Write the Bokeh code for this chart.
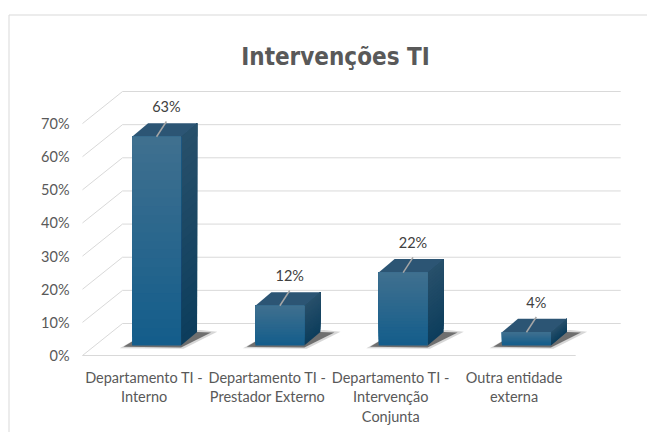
from bokeh.plotting import figure
from bokeh.models import Range1d
from bokeh.embed import file_html
from bokeh.resources import INLINE
from bokeh.core.properties import value

# ---------------- data ----------------
title_text = "Intervenções TI"
categories = ["Departamento TI -\nInterno",
              "Departamento TI -\nPrestador Externo",
              "Departamento TI -\nIntervenção\nConjunta",
              "Outra entidade\nexterna"]
values = [63, 12, 22, 4]
value_labels = ["63%", "12%", "22%", "4%"]
ticks = [0, 10, 20, 30, 40, 50, 60, 70]
tick_labels = ["0%", "10%", "20%", "30%", "40%", "50%", "60%", "70%"]

# ---------------- layout / style ----------------
W, H = 647, 432
PX_PER_X = 123.3          # pixels per category unit
PX_PER_Y = 3.314          # pixels per percent
X0_PX = 82                # canvas px of front-plane x = 0
Y0_PX = 355               # canvas px (from top) of front-plane y = 0

x_range = Range1d(-X0_PX / PX_PER_X, (W - X0_PX) / PX_PER_X)
y_range = Range1d(-(H - Y0_PX) / PX_PER_Y, Y0_PX / PX_PER_Y)


def cx(px):
    return x_range.start + px / PX_PER_X


def cy(px):
    return y_range.end - px / PX_PER_Y


DX = 40 / PX_PER_X        # depth of the chart (back wall offset)
DY = 32 / PX_PER_Y
FX = 12.4 / PX_PER_X      # bar front plane offset
FY = 10 / PX_PER_Y
BDX = 16 / PX_PER_X       # bar depth
BDY = 13.5 / PX_PER_Y
HW = 24.5 / PX_PER_X      # half bar width
BACK_EXTRA = 5 / PX_PER_X
SHX = 30 / PX_PER_X       # shadow reach
SHY = 13 / PX_PER_Y

GRID = "#d9d9d9"
TXT = "#595959"
FONT = value("Lato")

p = figure(width=W, height=H, x_range=x_range, y_range=y_range,
           x_axis_type=None, y_axis_type=None, toolbar_location=None,
           output_backend="svg", min_border=0)
p.outline_line_color = None
p.grid.visible = False
p.background_fill_color = "white"
p.border_fill_color = "white"

# chart border
p.segment(x0=[cx(8.5), cx(8.5)], y0=[cy(14.5), cy(14.5)],
          x1=[cx(8.5), cx(W + 5)], y1=[cy(H + 5), cy(14.5)],
          line_color=GRID, line_width=1)

n = len(categories)

# back wall gridlines
p.segment(x0=[DX] * len(ticks), y0=[t + DY for t in ticks],
          x1=[n + DX + BACK_EXTRA] * len(ticks), y1=[t + DY for t in ticks],
          line_color=GRID, line_width=1)
# side (left) diagonal gridlines
p.segment(x0=[0] * len(ticks), y0=ticks,
          x1=[DX] * len(ticks), y1=[t + DY for t in ticks],
          line_color=GRID, line_width=1)
# front floor edge
p.segment(x0=[0], y0=[0], x1=[n], y1=[0], line_color=GRID, line_width=1)


def lerp(c1, c2, t):
    a = [int(c1[i:i + 2], 16) for i in (1, 3, 5)]
    b = [int(c2[i:i + 2], 16) for i in (1, 3, 5)]
    return "#%02x%02x%02x" % tuple(round(a[k] + (b[k] - a[k]) * t) for k in range(3))


FRONT_BOT, FRONT_TOP = "#135d8b", "#40708f"
SIDE_BOT, SIDE_TOP = "#0c3d5c", "#28506b"
TOP_C = "#2c5574"
NS = 24

for i, v in enumerate(values):
    xc = i + 0.5 + FX
    xl, xr = xc - HW, xc + HW
    yb, yt = FY, FY + v
    # shadow (soft halo, then dark core)
    p.patch([xl - 0.10, xr + 0.02, xr + SHX + 0.05, xr + BDX + 0.03, xl + BDX],
            [yb - 0.8, yb - 1.0, yb + SHY + 0.2, yb + BDY + 0.6, yb + BDY],
            fill_color="#202020", fill_alpha=0.18, line_color=None)
    p.patch([xl - 0.07, xr, xr + SHX, xr + BDX, xl + BDX],
            [yb - 0.4, yb - 0.6, yb + SHY, yb + BDY, yb + BDY],
            fill_color="#1a1a1a", fill_alpha=0.55, line_color=None)
    # side face (layered strips, each running to the top -> no seams)
    xs, ys, cs = [], [], []
    for k in range(NS):
        y0 = yb + v * k / NS
        xs.append([xr, xr + BDX, xr + BDX, xr])
        ys.append([y0, y0 + BDY, yt + BDY, yt])
        cs.append(lerp(SIDE_BOT, SIDE_TOP, (k + 0.5) / NS))
    p.patches(xs, ys, fill_color=cs, line_color=None)
    # top face
    p.patch([xl, xr, xr + BDX, xl + BDX], [yt, yt, yt + BDY, yt + BDY],
            fill_color=TOP_C, line_color=None)
    # front face (layered strips)
    bots = [yb + v * k / NS for k in range(NS)]
    cols = [lerp(FRONT_BOT, FRONT_TOP, (k + 0.5) / NS) for k in range(NS)]
    p.quad(left=[xl] * NS, right=[xr] * NS, bottom=bots, top=[yt] * NS,
           fill_color=cols, line_color=None)

# leader lines and data labels
lab_x = [i + 0.5 + FX + 0.08 for i in range(n)]
p.segment(x0=lab_x, y0=[FY + v + 4.6 for v in values],
          x1=[i + 0.5 + FX for i in range(n)], y1=[FY + v for v in values],
          line_color="#a6a6a6", line_width=1.5)
p.text(x=lab_x, y=[FY + v + 9.1 for v in values], text=value_labels,
       text_font=FONT, text_font_size="14.5px", text_color="#404040",
       text_align="center", text_baseline="middle")

# y tick labels
p.text(x=[-13 / PX_PER_X] * len(ticks), y=ticks, text=tick_labels,
       text_font=FONT, text_font_size="14.5px", text_color=TXT,
       text_align="right", text_baseline="middle")

# category labels
p.text(x=[i + 0.5 for i in range(n)], y=[-4.0] * n, text=categories,
       text_font=FONT, text_font_size="14.5px", text_color=TXT,
       text_align="center", text_baseline="top", text_line_height=1.15)

# title
p.text(x=[cx(335)], y=[cy(56)], text=[title_text],
       text_font=value("'DejaVu Sans Condensed', 'Roboto', sans-serif"),
       text_font_style="bold",
       text_font_size="24px", text_color=TXT,
       text_align="center", text_baseline="alphabetic")

open("out.html", "w").write(file_html(p, INLINE))
